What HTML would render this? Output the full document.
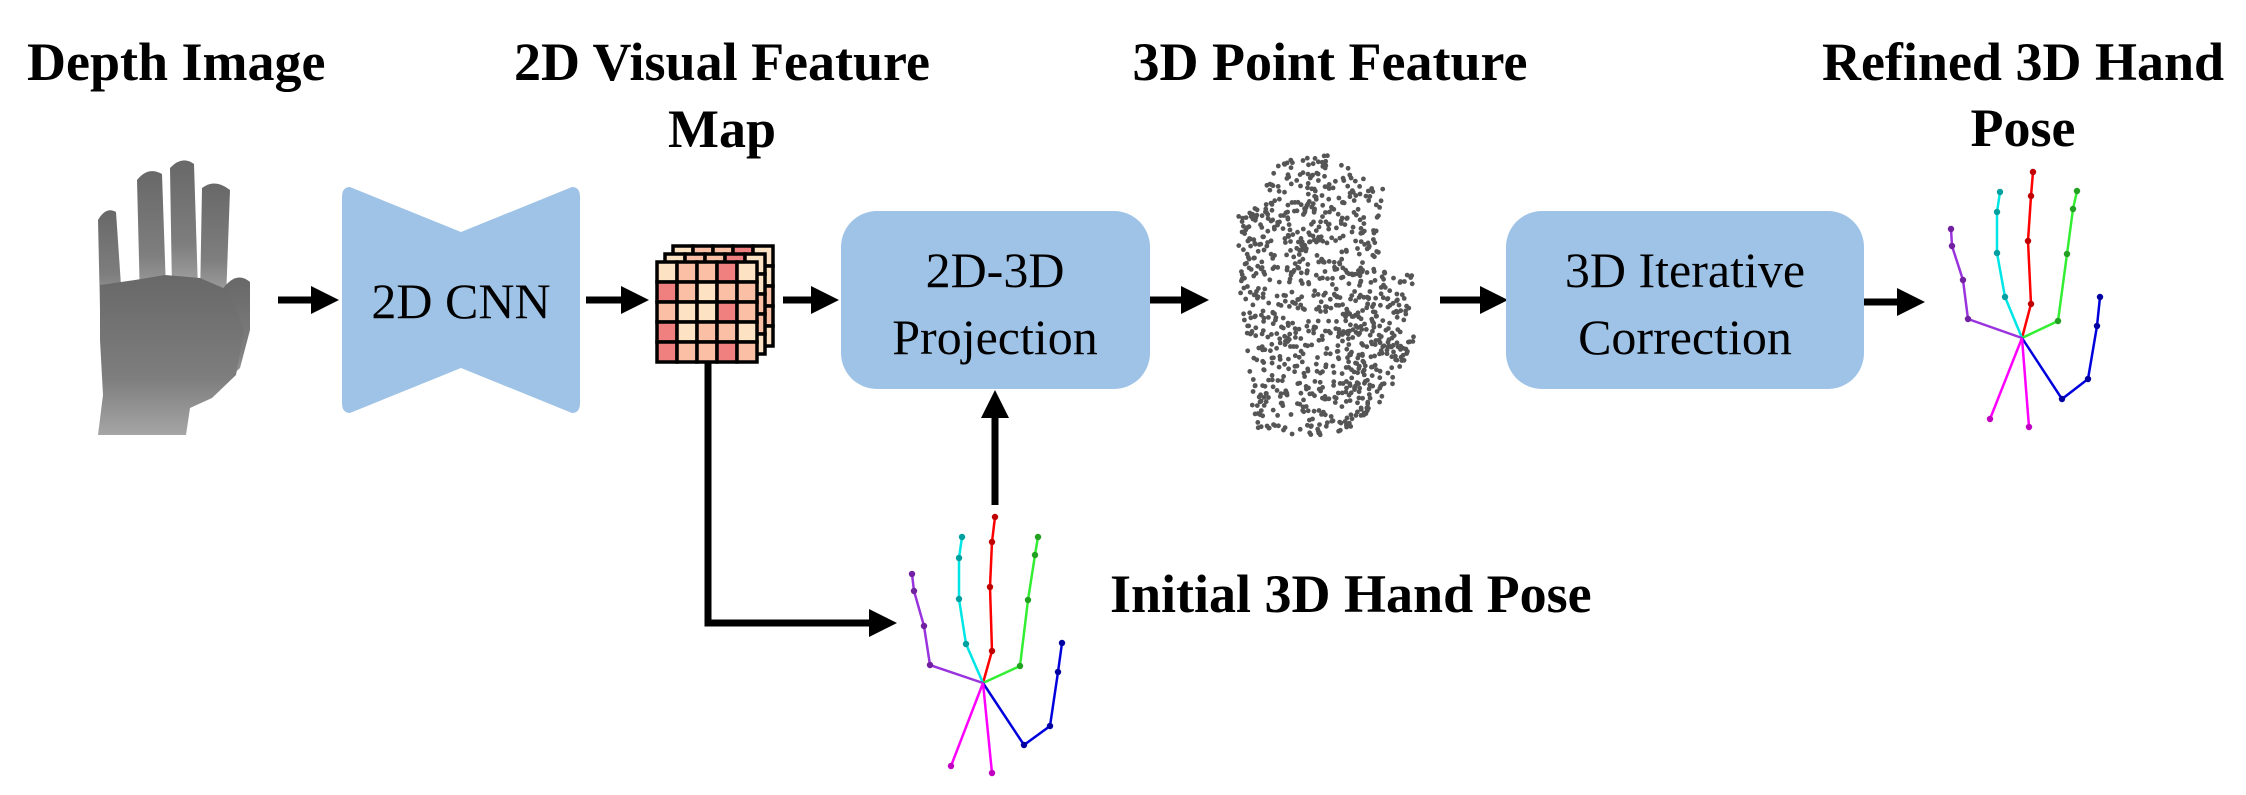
<!DOCTYPE html>
<html><head><meta charset="utf-8"><style>
html,body{margin:0;padding:0;background:#fff}
svg{display:block}
</style></head><body>
<svg id="s" width="2246" height="795" viewBox="0 0 2246 795" xmlns="http://www.w3.org/2000/svg">
<defs>
<linearGradient id="hg" x1="0" y1="0" x2="0" y2="1">
<stop offset="0" stop-color="#686868"/><stop offset="0.65" stop-color="#7e7e7e"/><stop offset="1" stop-color="#a5a5a5"/>
</linearGradient>
<marker id="ah" markerWidth="4" markerHeight="4" refX="1" refY="2" orient="auto" markerUnits="strokeWidth"><path d="M0,0 L4,2 L0,4 Z" fill="#000"/></marker>
</defs>
<g font-family="'Liberation Serif','Times New Roman',serif" font-weight="bold" font-size="54" fill="#000">
<text x="27" y="80">Depth Image</text>
<text x="722" y="80" text-anchor="middle">2D Visual Feature</text>
<text x="722" y="147" text-anchor="middle">Map</text>
<text x="1330" y="80" text-anchor="middle">3D Point Feature</text>
<text x="2023" y="80" text-anchor="middle">Refined 3D Hand</text>
<text x="2023" y="146" text-anchor="middle">Pose</text>
<text x="1110" y="612">Initial 3D Hand Pose</text>
</g>

<!-- depth hand -->
<g fill="url(#hg)">
<path d="M98,220 Q106,206 116,212 L122,300 L100,310 Z"/>
<path d="M137,180 Q148,166 162,174 L166,290 L140,300 Z"/>
<path d="M170,168 Q182,155 194,164 L198,290 L172,290 Z"/>
<path d="M202,188 Q215,178 230,190 L226,300 L200,300 Z"/>
<path d="M222,290 Q236,270 250,282 L250,330 L240,368 L225,382 L205,390 Z"/>
<path d="M100,285 L135,280 L165,275 L200,278 L228,290 L244,330 L236,375 L212,398 L190,408 L186,435 L98,435 L103,395 L100,340 Z"/>
</g>

<!-- CNN bowtie -->
<path d="M350,187 L461,232 L572,187 Q580,187 580,197 L580,403 Q580,413 572,413 L461,368 L350,413 Q342,413 342,403 L342,197 Q342,187 350,187 Z" fill="#9fc3e6"/>

<g font-family="'Liberation Serif','Times New Roman',serif" font-size="50" fill="#000" text-anchor="middle">
<text x="461" y="318">2D CNN</text>
</g>

<!-- arrows -->
<g stroke="#000" stroke-width="7" fill="none" marker-end="url(#ah)">
<line x1="278" y1="300" x2="318" y2="300"/>
<line x1="586" y1="300" x2="628" y2="300"/>
<line x1="783" y1="300" x2="818" y2="300"/>
<line x1="1150" y1="300" x2="1188" y2="300"/>
<line x1="1440" y1="300" x2="1487" y2="300"/>
<line x1="1864" y1="302" x2="1904" y2="302"/>
<line x1="995" y1="505" x2="995" y2="411"/>
<polyline points="708,361 708,623 876,623"/>
</g>

<!-- feature map -->
<g id="fm" stroke="#000" stroke-width="3.5"></g>

<!-- boxes -->
<rect x="841" y="211" width="309" height="178" rx="36" fill="#9fc3e6"/>
<rect x="1506" y="211" width="358" height="178" rx="36" fill="#9fc3e6"/>
<g font-family="'Liberation Serif','Times New Roman',serif" font-size="50" fill="#000" text-anchor="middle">
<text x="995" y="287">2D-3D</text>
<text x="995" y="354">Projection</text>
<text x="1685" y="287">3D Iterative</text>
<text x="1685" y="354">Correction</text>
</g>

<g id="pc" fill="#555"></g>
<g id="sk1"></g>
<g id="sk2"></g>
</svg>
<script>
var NS="http://www.w3.org/2000/svg";
function el(p,t,a){var e=document.createElementNS(NS,t);for(var k in a)e.setAttribute(k,a[k]);p.appendChild(e);return e;}
var L="#fde3c4",M="#fbbfa5",D="#f08080";
var fm=document.getElementById("fm");
var grids=[
[[L,M,M,D,L],[M,L,M,M,L],[L,M,L,M,M],[M,L,M,L,M],[L,M,L,M,L]],
[[L,M,M,D,L],[M,L,M,M,L],[L,M,L,M,M],[M,L,M,L,M],[L,M,L,M,L]],
[[L,M,M,D,L],[D,M,L,M,M],[M,L,L,D,M],[D,L,M,M,L],[D,M,M,D,M]]];
var offs=[[673,246],[665,254],[657,262]];
for(var g=0;g<3;g++){var ox=offs[g][0],oy=offs[g][1];for(var r=0;r<5;r++)for(var c=0;c<5;c++)el(fm,"rect",{x:ox+c*20,y:oy+r*20,width:20,height:20,fill:grids[g][r][c]});}
var poly=[[1275,160],[1330,155],[1385,190],[1375,240],[1390,275],[1412,275],[1414,340],[1385,400],[1345,435],[1255,435],[1250,380],[1240,300],[1237,215],[1262,205],[1270,165]];
function inside(x,y){var c=false;for(var i=0,j=poly.length-1;i<poly.length;j=i++){var a=poly[i],b=poly[j];if((a[1]>y)!=(b[1]>y)&&x<(b[0]-a[0])*(y-a[1])/(b[1]-a[1])+a[0])c=!c;}return c;}
var seed=7;function rnd(){seed=(seed*16807)%2147483647;return seed/2147483647;}
var pc=document.getElementById("pc"),n=0;
while(n<950){var x=1235+rnd()*182,y=152+rnd()*285;if(inside(x,y)){el(pc,"circle",{cx:x.toFixed(1),cy:y.toFixed(1),r:2.4});n++;}}
function sk(id,w,f){var g=document.getElementById(id);
for(var i=0;i<f.length;i++){var pts=[w].concat(f[i][1]);var s=pts.map(function(p){return p.join(",")}).join(" ");
el(g,"polyline",{points:s,fill:"none",stroke:f[i][0],"stroke-width":2.5});
for(var k=1;k<pts.length;k++)el(g,"circle",{cx:pts[k][0],cy:pts[k][1],r:3.2,fill:f[i][2]});}}
sk("sk1",[983,683],[
["#ff0000",[[992,651],[990,587],[992,542],[995,517]],"#c00000"],
["#00e5e5",[[966,644],[959,599],[959,558],[962,537]],"#00a0a0"],
["#33ee33",[[1020,666],[1028,600],[1035,555],[1038,537]],"#22a022"],
["#9933dd",[[930,665],[924,626],[914,591],[912,574]],"#7020a0"],
["#0000dd",[[1024,745],[1050,726],[1058,672],[1062,643]],"#0000a0"],
["#ff00ff",[[951,766]],"#c000c0"],["#ff00ff",[[992,773]],"#c000c0"]]);
sk("sk2",[2022,338],[
["#ff0000",[[2031,304],[2028,241],[2031,196],[2033,172]],"#c00000"],
["#00e5e5",[[2005,297],[1997,253],[1997,212],[2000,192]],"#00a0a0"],
["#33ee33",[[2058,321],[2067,254],[2073,209],[2077,191]],"#22a022"],
["#9933dd",[[1968,319],[1963,280],[1952,246],[1951,229]],"#7020a0"],
["#0000dd",[[2062,399],[2088,379],[2097,326],[2100,297]],"#0000a0"],
["#ff00ff",[[1990,419]],"#c000c0"],["#ff00ff",[[2029,427]],"#c000c0"]]);
</script>
</body></html>
